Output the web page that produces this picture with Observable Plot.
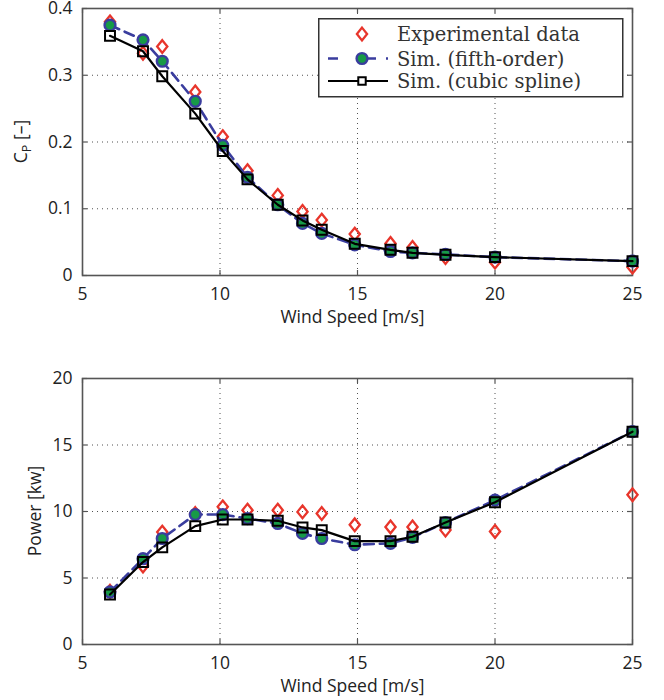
<!DOCTYPE html>
<html><head><meta charset="utf-8">
<script src="https://cdn.jsdelivr.net/npm/d3@7"></script>
<script src="https://cdn.jsdelivr.net/npm/@observablehq/plot@0.6"></script>
<style>
body{margin:0;background:#fff}
#wrap{position:relative;width:664px;height:700px;overflow:hidden}
#wrap svg{display:block}
#legend{position:absolute;left:318px;top:18px}
</style>
</head><body><div id="wrap"></div>
<script>
// ---- data ----
const windSpeed = [6, 7.2, 7.9, 9.1, 10.1, 11, 12.1, 13, 13.7, 14.9, 16.2, 17, 18.2, 20, 25];
const cpExp    = [0.38, 0.333, 0.343, 0.275, 0.208, 0.157, 0.12, 0.096, 0.083, 0.062, 0.048, 0.042, 0.027, 0.020, 0.0125];
const cpFifth  = [0.375, 0.353, 0.321, 0.261, 0.195, 0.147, 0.106, 0.078, 0.063, 0.046, 0.036, 0.034, 0.0315, 0.0275, 0.0215];
const cpSpline = [0.359, 0.336, 0.2985, 0.2425, 0.1865, 0.144, 0.106, 0.0825, 0.0685, 0.0475, 0.0385, 0.034, 0.031, 0.0275, 0.0215];
const powExp    = [4.0, 5.9, 8.45, 9.85, 10.35, 10.1, 10.1, 9.97, 9.85, 9.0, 8.84, 8.84, 8.6, 8.5, 11.26];
const powFifth  = [3.95, 6.45, 7.97, 9.77, 9.77, 9.47, 9.1, 8.35, 7.97, 7.5, 7.6, 8.05, 9.17, 10.85, 16.0];
const powSpline = [3.76, 6.2, 7.3, 8.9, 9.4, 9.4, 9.3, 8.8, 8.6, 7.77, 7.77, 8.1, 9.17, 10.7, 16.0];
const xTicks = [5, 10, 15, 20, 25];
const cpTicks = [0, 0.1, 0.2, 0.3, 0.4];
const powTicks = [0, 5, 10, 15, 20];
const seriesNames = ["Experimental data", "Sim. (fifth-order)", "Sim. (cubic spline)"];
const xLabel = "Wind Speed [m/s]";

const RED = "#e8352b", BLUE = "#3a3d9e", GREEN = "#179a47", FRAME = "#555";
const FONT = "'Open Sans', sans-serif";
const FS = 17.5;

// MATLAB-like diamond (wider than d3's)
const diamond = {
  draw(ctx, size) {
    const s = Math.sqrt(size / Math.PI);
    const hw = s, hh = s * 1.25;
    ctx.moveTo(0, -hh); ctx.lineTo(hw, 0); ctx.lineTo(0, hh); ctx.lineTo(-hw, 0); ctx.closePath();
  }
};

function panel({exp, fifth, spline, yDomain, yTicks, height, marginTop, marginBottom}) {
  const rows = windSpeed.map((x, i) => ({x, exp: exp[i], fifth: fifth[i], spline: spline[i]}));
  const plotH = height - marginTop - marginBottom;
  const plotW = 664 - 82 - 32;
  const tk = 5;
  return Plot.plot({
    width: 664, height, marginLeft: 82, marginRight: 32, marginTop, marginBottom,
    style: {fontFamily: FONT, fontSize: FS + "px", color: "#222", background: "white", overflow: "visible"},
    x: {domain: [5, 25]},
    y: {domain: yDomain},
    marks: [
      Plot.gridX(xTicks, {stroke: "#333", strokeOpacity: 0.85, strokeDasharray: "1,4"}),
      Plot.gridY(yTicks, {stroke: "#333", strokeOpacity: 0.85, strokeDasharray: "1,4"}),
      Plot.frame({stroke: FRAME, strokeWidth: 1.6}),
      Plot.tickX(xTicks, {x: d => d, insetTop: plotH - tk, stroke: FRAME, strokeWidth: 1.2}),
      Plot.tickX(xTicks, {x: d => d, insetBottom: plotH - tk, stroke: FRAME, strokeWidth: 1.2}),
      Plot.tickY(yTicks, {y: d => d, insetRight: plotW - tk, stroke: FRAME, strokeWidth: 1.2}),
      Plot.tickY(yTicks, {y: d => d, insetLeft: plotW - tk, stroke: FRAME, strokeWidth: 1.2}),
      Plot.axisX(xTicks, {tickSize: 0, tickPadding: 12, label: null, tickFormat: d => String(d)}),
      Plot.axisY(yTicks, {tickSize: 0, tickPadding: 10, label: null, tickFormat: d => String(d)}),
      Plot.text([xLabel], {text: d => d, frameAnchor: "bottom", dx: -5, dy: 42, lineAnchor: "middle", fontSize: FS, fill: "#222"}),
      Plot.dot(rows, {x: "x", y: "exp", symbol: diamond, r: 5.1, stroke: RED, strokeWidth: 2.3, fill: "none"}),
      Plot.line(rows, {x: "x", y: "fifth", stroke: BLUE, strokeWidth: 2.6, strokeDasharray: "10,6"}),
      Plot.dot(rows, {x: "x", y: "fifth", r: 5.4, stroke: BLUE, strokeWidth: 2.4, fill: GREEN}),
      Plot.line(rows, {x: "x", y: "spline", stroke: "#000", strokeWidth: 2.2}),
      Plot.dot(rows, {x: "x", y: "spline", symbol: "square", r: 5.6, stroke: "#000", strokeWidth: 2, fill: "none"})
    ]
  });
}

function yLabel(chart, x, parts) {
  const ys = chart.scale("y");
  const mid = (ys.range[0] + ys.range[1]) / 2;
  const t = d3.select(chart).append("text")
    .attr("transform", `translate(${x},${mid}) rotate(-90)`)
    .attr("text-anchor", "middle")
    .attr("font-family", FONT).attr("font-size", FS).attr("fill", "#222");
  parts.forEach(p => {
    const s = t.append("tspan").text(p.text);
    if (p.sub) s.attr("baseline-shift", "-30%").attr("font-size", 12.5);
  });
}

const wrap = document.getElementById("wrap");
const cpChart = panel({exp: cpExp, fifth: cpFifth, spline: cpSpline, yDomain: [0, 0.4], yTicks: cpTicks,
  height: 330, marginTop: 8, marginBottom: 55});
yLabel(cpChart, 27, [{text: "C"}, {text: "P", sub: true}, {text: " [–]"}]);
wrap.appendChild(cpChart);

const powChart = panel({exp: powExp, fifth: powFifth, spline: powSpline, yDomain: [0, 20], yTicks: powTicks,
  height: 370, marginTop: 48, marginBottom: 56});
yLabel(powChart, 41, [{text: "Power [kw]"}]);
wrap.appendChild(powChart);

// ---- legend ----
const lg = d3.select(wrap).append("svg").attr("id", "legend").attr("width", 306).attr("height", 80);
lg.append("rect").attr("x", 0.75).attr("y", 0.75).attr("width", 304).attr("height", 78)
  .attr("fill", "white").attr("stroke", "#333").attr("stroke-width", 1.5);
const rowsY = [16, 40.5, 63];
const mx = 44, lx0 = 10, lx1 = 70, tx = 79;
const sym = (type, r) => d3.symbol(type, Math.PI * r * r)();
lg.append("path").attr("d", sym(diamond, 5.1)).attr("transform", `translate(${mx},${rowsY[0]})`)
  .attr("fill", "none").attr("stroke", RED).attr("stroke-width", 2.3);
lg.append("line").attr("x1", lx0).attr("x2", lx1).attr("y1", rowsY[1]).attr("y2", rowsY[1])
  .attr("stroke", BLUE).attr("stroke-width", 2.6).attr("stroke-dasharray", "10,28,10");
lg.append("circle").attr("cx", mx).attr("cy", rowsY[1]).attr("r", 5.4)
  .attr("fill", GREEN).attr("stroke", BLUE).attr("stroke-width", 2.4);
lg.append("line").attr("x1", lx0).attr("x2", lx1).attr("y1", rowsY[2]).attr("y2", rowsY[2])
  .attr("stroke", "#000").attr("stroke-width", 2.2);
lg.append("path").attr("d", sym(d3.symbolSquare, 4.2)).attr("transform", `translate(${mx},${rowsY[2]})`)
  .attr("fill", "white").attr("stroke", "#000").attr("stroke-width", 2);
seriesNames.forEach((n, i) => {
  lg.append("text").attr("x", tx).attr("y", rowsY[i] + 7).text(n)
    .attr("font-family", "'DejaVu Serif', serif").attr("font-size", 19.5).attr("fill", "#333");
});
</script></body></html>
